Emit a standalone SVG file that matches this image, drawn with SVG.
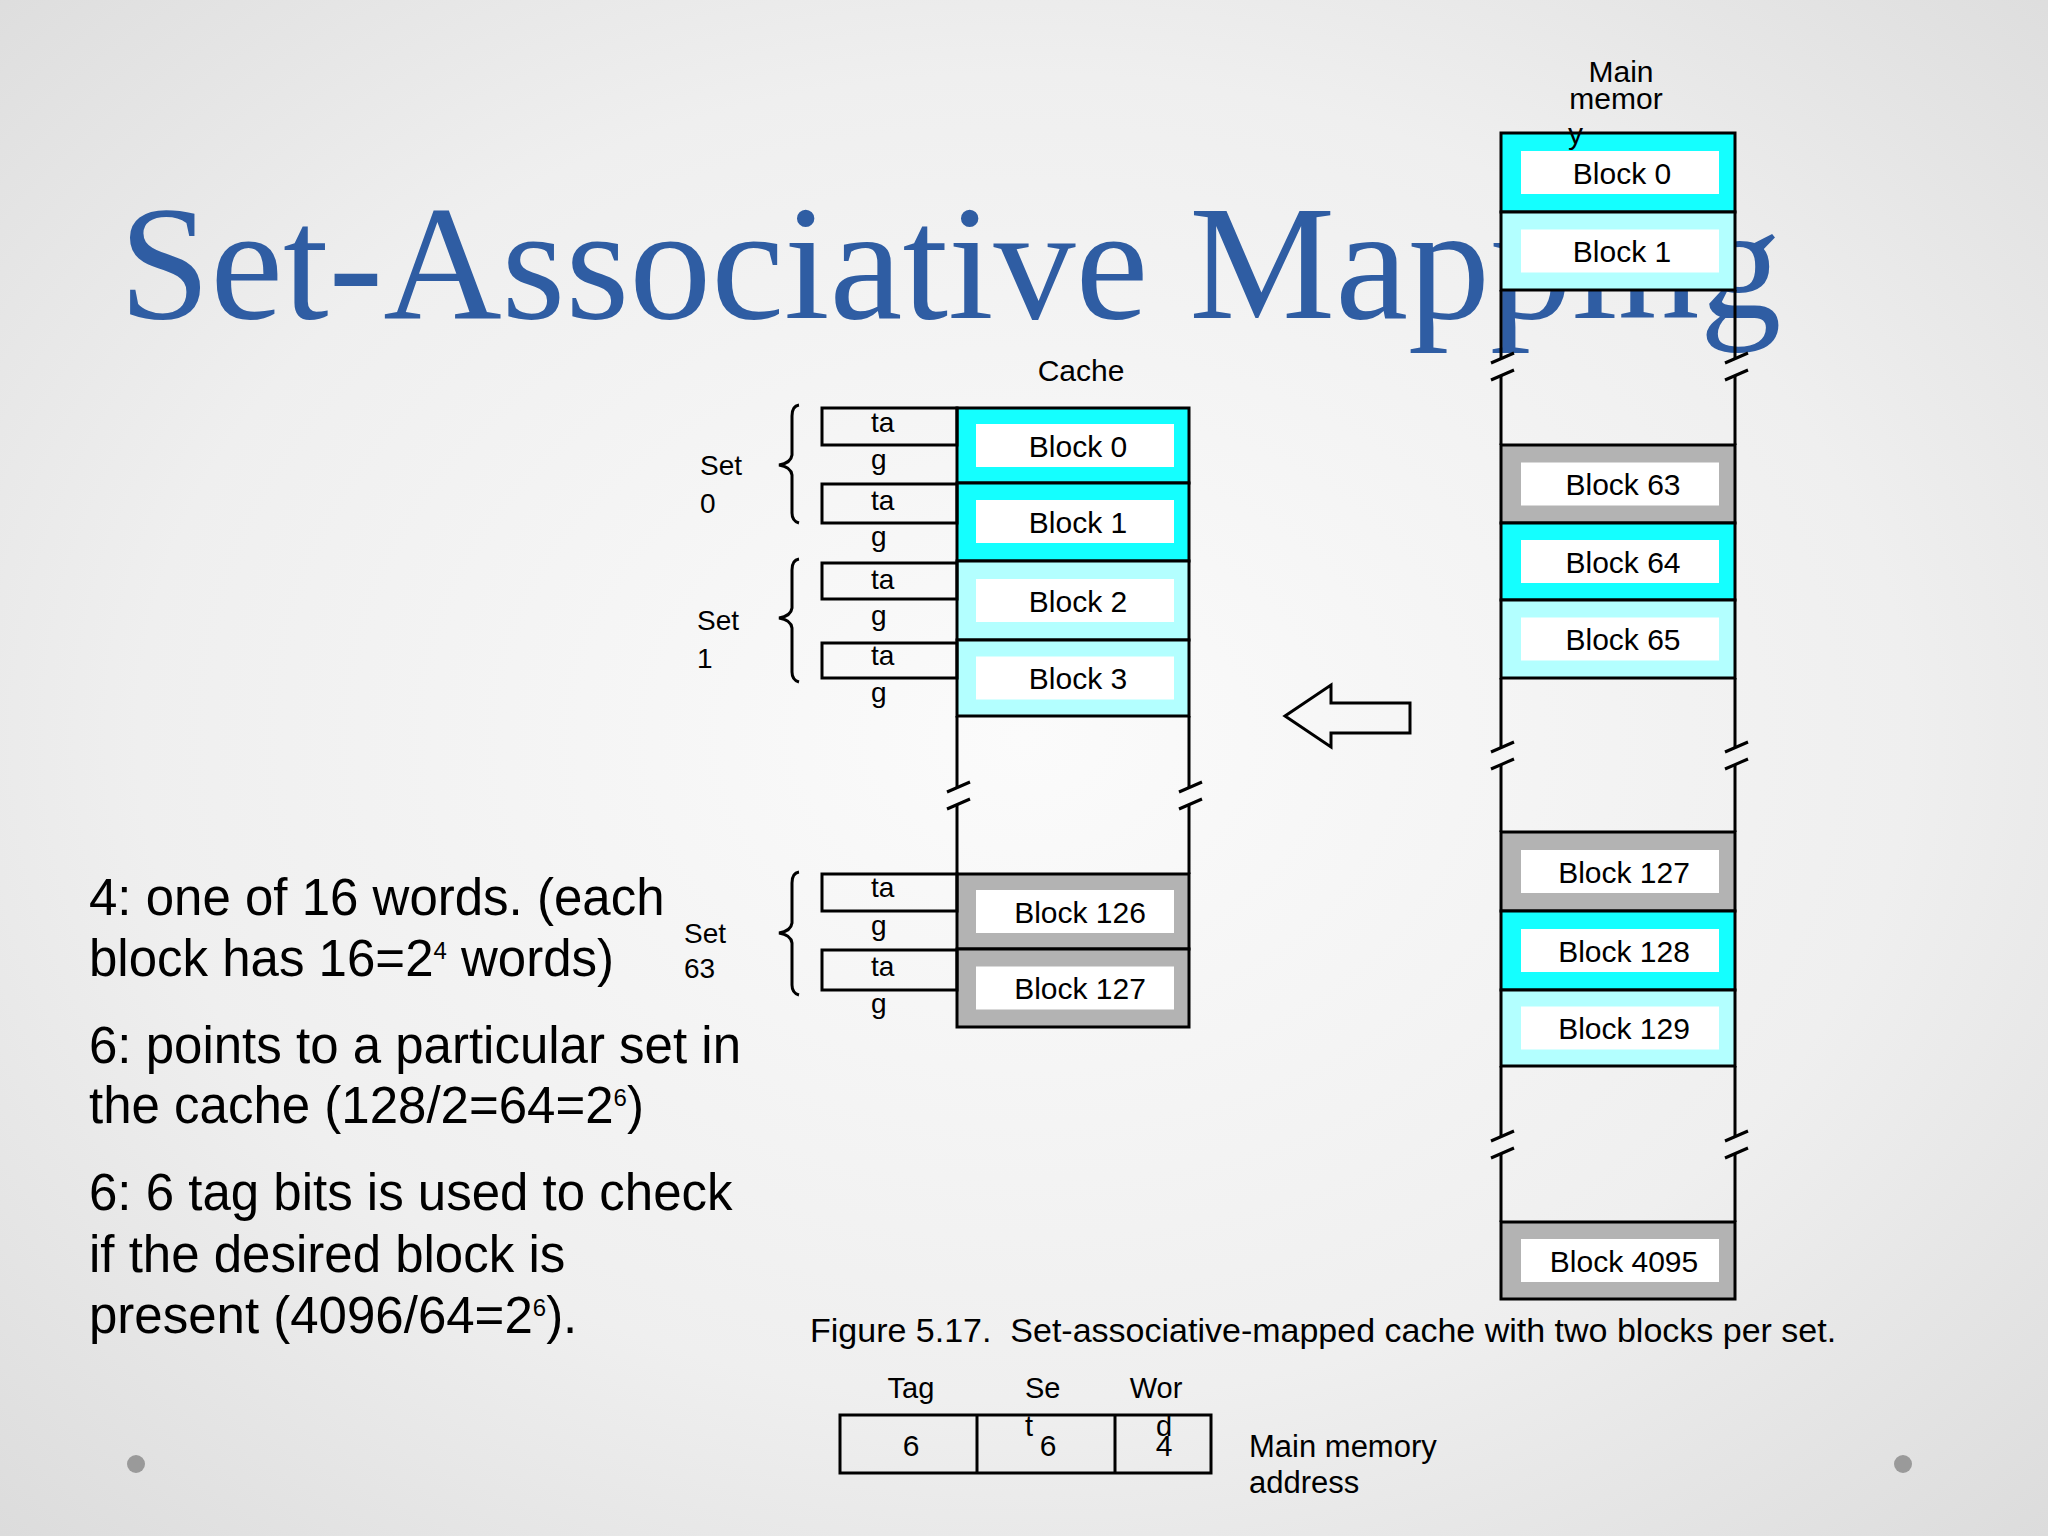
<svg xmlns="http://www.w3.org/2000/svg" xmlns:xlink="http://www.w3.org/1999/xlink" width="2048" height="1536" viewBox="0 0 2048 1536">
<defs>
<radialGradient id="bg" cx="50%" cy="48%" r="72%">
<stop offset="0" stop-color="#fbfbfb"/>
<stop offset="0.6" stop-color="#efefef"/>
<stop offset="1" stop-color="#dcdcdc"/>
</radialGradient>
<g id="brk"><path d="M-10 5 L13 -5 M-10 22 L13 12" stroke="#000" stroke-width="3" fill="none"/></g>
<style>
.t{font-family:"Liberation Sans",Arial,sans-serif;fill:#000}
.blk{stroke:#000;stroke-width:3}
.c1{fill:#14FFFF}
.c2{fill:#B3FFFF}
.gr{fill:#B3B3B3}
.in{fill:#fff}
.ln{stroke:#000;stroke-width:3;fill:none}
.bt{font-size:30px;text-anchor:middle}
.tg{font-size:28px}
.sl{font-size:28px}
.para{font-size:51px}
</style>
</defs>
<rect x="0" y="0" width="2048" height="1536" fill="url(#bg)"/>
<text x="119" y="318" font-family="'Liberation Serif','Times New Roman',serif" font-size="164" fill="#2F5DA3">Set-Associative Mapping</text>

<g id="left-text" class="t para">
<text x="89" y="915">4: one of 16 words. (each</text>
<text x="89" y="976">block has 16=2<tspan font-size="24" dy="-17">4</tspan><tspan dy="17"> words)</tspan></text>
<text x="89" y="1063">6: points to a particular set in</text>
<text x="89" y="1123">the cache (128/2=64=2<tspan font-size="24" dy="-17">6</tspan><tspan dy="17">)</tspan></text>
<text x="89" y="1210">6: 6 tag bits is used to check</text>
<text x="89" y="1272">if the desired block is</text>
<text x="89" y="1333">present (4096/64=2<tspan font-size="24" dy="-17">6</tspan><tspan dy="17">).</tspan></text>
</g>

<g id="cache">
<text class="t" x="1081" y="381" font-size="30" text-anchor="middle">Cache</text>
<g id="cache-block-0"><rect class="blk c1" x="957" y="408" width="232" height="75"/><rect class="in" x="976" y="424" width="198" height="43"/><text class="t bt" x="1078" y="456.5">Block 0</text></g>
<g id="cache-block-1"><rect class="blk c1" x="957" y="483" width="232" height="78"/><rect class="in" x="976" y="500" width="198" height="43"/><text class="t bt" x="1078" y="533">Block 1</text></g>
<g id="cache-block-2"><rect class="blk c2" x="957" y="561" width="232" height="79"/><rect class="in" x="976" y="579" width="198" height="43"/><text class="t bt" x="1078" y="611.5">Block 2</text></g>
<g id="cache-block-3"><rect class="blk c2" x="957" y="640" width="232" height="76"/><rect class="in" x="976" y="656.5" width="198" height="43"/><text class="t bt" x="1078" y="689">Block 3</text></g>
<g id="cache-gap">
<path class="ln" d="M957 716 V787.6 M957 804.6 V874 M1189 716 V787.6 M1189 804.6 V874"/>
<use xlink:href="#brk" x="957" y="787"/>
<use xlink:href="#brk" x="1189" y="787"/>
</g>
<g id="cache-block-126"><rect class="blk gr" x="957" y="874" width="232" height="75"/><rect class="in" x="976" y="890" width="198" height="43"/><text class="t bt" x="1080" y="922.5">Block 126</text></g>
<g id="cache-block-127"><rect class="blk gr" x="957" y="949" width="232" height="78"/><rect class="in" x="976" y="966.5" width="198" height="43"/><text class="t bt" x="1080" y="999">Block 127</text></g>
</g>

<g id="tags">
<g id="tag-0"><rect class="ln" x="822" y="408" width="135" height="37"/><text class="t tg" x="871" y="432">ta</text><text class="t tg" x="871" y="469">g</text></g>
<g id="tag-1"><rect class="ln" x="822" y="484" width="135" height="39"/><text class="t tg" x="871" y="510">ta</text><text class="t tg" x="871" y="546">g</text></g>
<g id="tag-2"><rect class="ln" x="822" y="563" width="135" height="36"/><text class="t tg" x="871" y="589">ta</text><text class="t tg" x="871" y="625">g</text></g>
<g id="tag-3"><rect class="ln" x="822" y="643" width="135" height="35"/><text class="t tg" x="871" y="665">ta</text><text class="t tg" x="871" y="702">g</text></g>
<g id="tag-126"><rect class="ln" x="822" y="874" width="135" height="37"/><text class="t tg" x="871" y="897">ta</text><text class="t tg" x="871" y="935">g</text></g>
<g id="tag-127"><rect class="ln" x="822" y="950" width="135" height="40"/><text class="t tg" x="871" y="976">ta</text><text class="t tg" x="871" y="1013">g</text></g>
</g>

<g id="set-0">
<path class="ln" d="M799 405 Q792 406 792 416 V455 Q791 463 779 465 Q791 467 792 475 V513 Q792 521 799 523"/>
<text class="t sl" x="700" y="475">Set</text><text class="t sl" x="700" y="513">0</text>
</g>
<g id="set-1">
<path class="ln" d="M799 559 Q792 560 792 570 V608 Q791 616 779 618 Q791 620 792 628 V672 Q792 680 799 682"/>
<text class="t sl" x="697" y="630">Set</text><text class="t sl" x="697" y="668">1</text>
</g>
<g id="set-63">
<path class="ln" d="M799 872 Q792 873 792 883 V923 Q791 931 779 933 Q791 935 792 943 V985 Q792 993 799 995"/>
<text class="t sl" x="684" y="943">Set</text><text class="t sl" x="684" y="978">63</text>
</g>

<g id="main-memory">
<text class="t" x="1621" y="82" font-size="30" text-anchor="middle">Main</text>
<text class="t" x="1616" y="109" font-size="30" text-anchor="middle">memor</text>
<g id="mm-block-0"><rect class="blk c1" x="1501" y="133" width="234" height="79"/><rect class="in" x="1521" y="151" width="198" height="43"/><text class="t bt" x="1622" y="183.5">Block 0</text></g>
<text class="t" x="1568" y="144" font-size="30">y</text>
<g id="mm-block-1"><rect class="blk c2" x="1501" y="212" width="234" height="78"/><rect class="in" x="1521" y="229.5" width="198" height="43"/><text class="t bt" x="1622" y="262">Block 1</text></g>
<g id="mm-gap-1">
<path class="ln" d="M1501 290 V358.6 M1501 375.6 V445 M1735 290 V358.6 M1735 375.6 V445"/>
<use xlink:href="#brk" x="1501" y="358"/><use xlink:href="#brk" x="1735" y="358"/>
</g>
<g id="mm-block-63"><rect class="blk gr" x="1501" y="445" width="234" height="78"/><rect class="in" x="1521" y="462.5" width="198" height="43"/><text class="t bt" x="1623" y="495">Block 63</text></g>
<g id="mm-block-64"><rect class="blk c1" x="1501" y="523" width="234" height="77"/><rect class="in" x="1521" y="540" width="198" height="43"/><text class="t bt" x="1623" y="572.5">Block 64</text></g>
<g id="mm-block-65"><rect class="blk c2" x="1501" y="600" width="234" height="78"/><rect class="in" x="1521" y="617.5" width="198" height="43"/><text class="t bt" x="1623" y="650">Block 65</text></g>
<g id="mm-gap-2">
<path class="ln" d="M1501 678 V747.6 M1501 764.6 V832 M1735 678 V747.6 M1735 764.6 V832"/>
<use xlink:href="#brk" x="1501" y="747"/><use xlink:href="#brk" x="1735" y="747"/>
</g>
<g id="mm-block-127"><rect class="blk gr" x="1501" y="832" width="234" height="79"/><rect class="in" x="1521" y="850" width="198" height="43"/><text class="t bt" x="1624" y="882.5">Block 127</text></g>
<g id="mm-block-128"><rect class="blk c1" x="1501" y="911" width="234" height="79"/><rect class="in" x="1521" y="929" width="198" height="43"/><text class="t bt" x="1624" y="961.5">Block 128</text></g>
<g id="mm-block-129"><rect class="blk c2" x="1501" y="990" width="234" height="76"/><rect class="in" x="1521" y="1006.5" width="198" height="43"/><text class="t bt" x="1624" y="1039">Block 129</text></g>
<g id="mm-gap-3">
<path class="ln" d="M1501 1066 V1136.6 M1501 1153.6 V1222 M1735 1066 V1136.6 M1735 1153.6 V1222"/>
<use xlink:href="#brk" x="1501" y="1136"/><use xlink:href="#brk" x="1735" y="1136"/>
</g>
<g id="mm-block-4095"><rect class="blk gr" x="1501" y="1222" width="234" height="77"/><rect class="in" x="1521" y="1239" width="198" height="43"/><text class="t bt" x="1624" y="1271.5">Block 4095</text></g>
</g>

<g id="connectors">
<polygon class="ln" points="1285,716 1331,685 1331,703 1410,703 1410,733 1331,733 1331,747"/>
</g>

<text class="t" x="810" y="1342" font-size="34" xml:space="preserve">Figure 5.17.  Set-associative-mapped cache with two blocks per set.</text>

<g id="address">
<rect class="ln" x="840" y="1415" width="371" height="58"/>
<path class="ln" d="M977 1415 V1473 M1115 1415 V1473"/>
<text class="t" x="911" y="1398" font-size="29" text-anchor="middle">Tag</text>
<text class="t" x="1025" y="1398" font-size="29">Se</text>
<text class="t" x="1025" y="1436" font-size="29">t</text>
<text class="t" x="1156" y="1398" font-size="29" text-anchor="middle">Wor</text>
<text class="t" x="1164" y="1436" font-size="29" text-anchor="middle">d</text>
<text class="t" x="911" y="1456" font-size="30" text-anchor="middle">6</text>
<text class="t" x="1048" y="1456" font-size="30" text-anchor="middle">6</text>
<text class="t" x="1164" y="1456" font-size="30" text-anchor="middle">4</text>
<text class="t" x="1249" y="1457" font-size="31">Main memory</text>
<text class="t" x="1249" y="1493" font-size="31">address</text>
</g>

<circle cx="136" cy="1464" r="9" fill="#9a9a9a"/>
<circle cx="1903" cy="1464" r="9" fill="#9a9a9a"/>
</svg>
